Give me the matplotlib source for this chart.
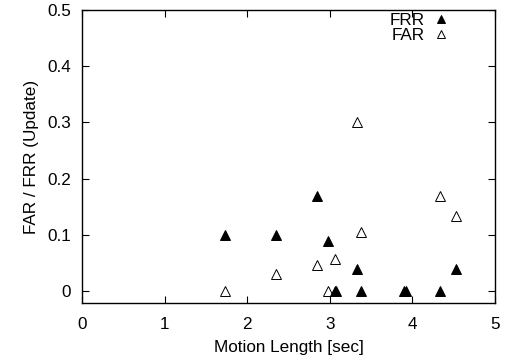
import matplotlib
matplotlib.use("Agg")
import matplotlib.pyplot as plt
from matplotlib.ticker import FuncFormatter

plt.rcParams['font.family'] = ['Liberation Sans', 'DejaVu Sans']

frr_x = [1.73, 2.35, 2.84, 2.98, 3.06, 3.08, 3.33, 3.38, 3.90, 3.92, 4.33, 4.53]
frr_y = [0.10, 0.10, 0.17, 0.09, 0.0, 0.0, 0.04, 0.0, 0.0, 0.0, 0.0, 0.04]
far_x = [1.73, 2.35, 2.84, 2.98, 3.06, 3.33, 3.38, 4.33, 4.53]
far_y = [0.0, 0.03, 0.047, 0.0, 0.058, 0.30, 0.105, 0.17, 0.133]

x_ticks = [0, 1, 2, 3, 4, 5]
y_ticks = [0, 0.1, 0.2, 0.3, 0.4, 0.5]

FS = 12.3

fig = plt.figure(figsize=(5.06, 3.60), dpi=100)
ax = fig.add_axes([82/506, 1-303/360, (495-82)/506, (303-10)/360])

ax.plot(frr_x, frr_y, linestyle='none', marker='^', markersize=6.5,
        color='black', markeredgewidth=0.7, label='FRR')
ax.plot(far_x, far_y, linestyle='none', marker='^', markersize=6.5,
        markerfacecolor='none', markeredgecolor='black', markeredgewidth=0.7, label='FAR')

ax.set_xlim(0, 5)
ax.set_ylim(-0.021, 0.5)
ax.set_xticks(x_ticks)
ax.set_yticks(y_ticks)
ax.yaxis.set_major_formatter(FuncFormatter(lambda v, p: '0' if abs(v) < 1e-9 else f'{v:.1f}'))
ax.tick_params(direction='in', top=True, right=True, length=5, width=0.8, labelsize=FS)
ax.tick_params(axis='x', pad=10)
ax.tick_params(axis='y', pad=8)
for s in ax.spines.values():
    s.set_linewidth(1.0)

ax.set_xlabel('Motion Length [sec]', fontsize=FS, labelpad=6)
ax.set_ylabel('FAR / FRR (Update)', fontsize=FS, labelpad=6)

leg = ax.legend(loc='upper right', frameon=False, markerfirst=False, fontsize=FS,
                handlelength=1.0, handletextpad=0.45, borderaxespad=0.2, labelspacing=0.0,
                markerscale=0.8, bbox_to_anchor=(0.915, 1.025))

fig.savefig('out.png', dpi=100)
